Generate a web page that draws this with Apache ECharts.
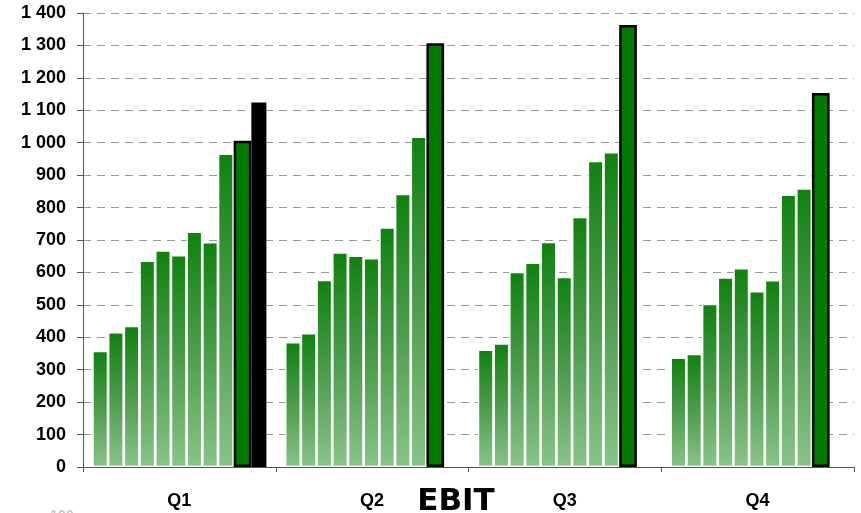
<!DOCTYPE html>
<html>
<head>
<meta charset="utf-8">
<script src="https://cdn.jsdelivr.net/npm/echarts@6/dist/echarts.min.js"></script>
<style>html,body{margin:0;padding:0;background:#fff;}#c{width:861px;height:513px;}</style>
</head>
<body>
<div id="c"></div>
<script>
var categories = ['Q1', 'Q2', 'Q3', 'Q4'];
var yTicks = [0, 100, 200, 300, 400, 500, 600, 700, 800, 900, 1000, 1100, 1200, 1300, 1400];
var s1 = [358, 385, 362, 337];
var s2 = [416, 413, 381, 349];
var s3 = [435, 577, 602, 503];
var s4 = [636, 662, 630, 585];
var s5 = [668, 652, 694, 613];
var s6 = [653, 644, 586, 542];
var s7 = [726, 739, 771, 576];
var s8 = [693, 842, 944, 840];
var s9 = [966, 1019, 971, 859];
var s10 = [1006, 1307, 1363, 1153];
var s11 = [1124, null, null, null];
var titleText = 'EBIT';
var footText = '100';

var gradSeries = [s1, s2, s3, s4, s5, s6, s7, s8, s9];
var grad = new echarts.graphic.LinearGradient(0, 0, 0, 1, [
  {offset: 0, color: '#0f820f'},
  {offset: 0.5, color: '#4c9c4c'},
  {offset: 1, color: '#88c488'}
]);
var series = gradSeries.map(function (d) {
  return {
    type: 'bar', data: d, barWidth: 15.7, barGap: 0,
    itemStyle: {color: grad, borderColor: '#fff', borderWidth: 1.35}
  };
});
series.push({
  type: 'bar', data: s10, barWidth: 17.7, barGap: 0, z: 3,
  itemStyle: {color: '#007a00', borderColor: '#000', borderWidth: 2.5}
});
series.push({
  type: 'bar', data: s11, barWidth: 15, barGap: 0, z: 2,
  itemStyle: {color: '#000'}
});

var chart = echarts.init(document.getElementById('c'));
chart.setOption({
  animation: false,
  grid: {left: 83, right: 7, top: 13, bottom: 46, containLabel: false},
  xAxis: {
    type: 'category', data: categories, z: 5,
    axisLine: {lineStyle: {color: '#555', width: 1}},
    axisTick: {show: true, length: 5, interval: 0, lineStyle: {color: '#555'}},
    axisLabel: {margin: 25, color: '#000', fontFamily: 'Liberation Sans, Arial, sans-serif', fontWeight: 'bold', fontSize: 18}
  },
  yAxis: {
    type: 'value', min: yTicks[0], max: yTicks[yTicks.length - 1], interval: 100,
    axisLine: {show: true, lineStyle: {color: '#555', width: 1}},
    axisTick: {show: true, length: 6, lineStyle: {color: '#555'}},
    splitLine: {show: true, lineStyle: {color: '#999', type: [8, 6], width: 1}},
    axisLabel: {
      margin: 17, color: '#000', fontFamily: 'Liberation Sans, Arial, sans-serif', fontWeight: 'bold', fontSize: 18,
      formatter: function (v) { return String(v).replace(/\B(?=(\d{3})+(?!\d))/g, ' '); }
    }
  },
  series: series,
  graphic: [
    {type: 'text', x: 456, y: 502, style: {text: titleText, textAlign: 'center', textVerticalAlign: 'middle',
      font: 'bold 31px "DejaVu Sans", sans-serif', fill: '#000'}},
    {type: 'text', x: 62, y: 509, style: {text: footText, textAlign: 'center', textVerticalAlign: 'top',
      font: 'bold 14px "Liberation Sans", Arial, sans-serif', fill: '#c8c8c8'}}
  ]
});
</script>
</body>
</html>
